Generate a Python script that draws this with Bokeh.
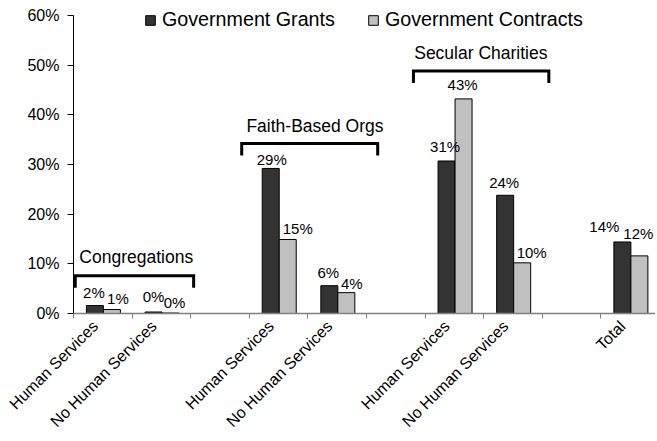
from bokeh.plotting import figure
from bokeh.models import (ColumnDataSource, Range1d, FixedTicker, PrintfTickFormatter,
                          Legend, LegendItem)
from bokeh.core.properties import value
from bokeh.embed import file_html
from bokeh.resources import INLINE

# ---- data ----
slot_labels = ["Human Services", "No Human Services", "",
               "Human Services", "No Human Services", "",
               "Human Services", "No Human Services", "",
               "Total"]
bar_slots = [0, 1, 3, 4, 6, 7, 9]
grants = [1.6, 0.3, 29.2, 5.6, 30.7, 23.8, 14.4]
contracts = [0.8, 0.1, 14.9, 4.2, 43.2, 10.2, 11.6]
y_ticks = [0, 10, 20, 30, 40, 50, 60]

group_names = ["Congregations", "Faith-Based Orgs", "Secular Charities"]
group_start = [0.03, 2.87, 5.80]
group_end = [2.05, 5.19, 8.11]
group_bracket_y = [7.6, 34.2, 48.8]
group_text_x = [1.07, 4.12, 6.95]
group_text_y = [11.3, 37.8, 52.4]

# label pixel nudges (as placed in the original)
g_dx = [-1, 0, 1, -1, -1.5, -1, -18]
g_dy = [13.5, 15.5, 9, 13, 14, 13, 15.7]
c_dx = [6, 4, 10, 5.5, -1, 9.5, -1]
c_dy = [11, 11, 11, 9, 14, 10.6, 22.7]

FONT = "Liberation Sans"
DARK = "#333333"
LIGHT = "#c0c0c0"
BW = 0.29
G_OFF = 0.365
C_OFF = 0.655
LAB_OFF = 0.37

p = figure(width=655, height=440, output_backend="svg", toolbar_location=None,
           x_range=Range1d(0, 9.93), y_range=Range1d(0, 61.8),
           min_border_left=73, min_border_top=6, min_border_right=0,
           min_border_bottom=127)
p.outline_line_color = None
p.xgrid.visible = False
p.ygrid.visible = False
p.background_fill_color = "white"
p.border_fill_color = "white"

gx = [s + G_OFF for s in bar_slots]
cx = [s + C_OFF for s in bar_slots]
src_g = ColumnDataSource(dict(x=gx, top=grants,
                              lab=[f"{v:.0f}%" for v in grants],
                              dx=g_dx, dy=[-d for d in g_dy]))
src_c = ColumnDataSource(dict(x=cx, top=contracts,
                              lab=[f"{v:.0f}%" for v in contracts],
                              dx=c_dx, dy=[-d for d in c_dy]))

rg = p.vbar(x="x", top="top", width=BW, bottom=0, source=src_g,
            fill_color=DARK, line_color="black", line_width=1)
rc = p.vbar(x="x", top="top", width=BW, bottom=0, source=src_c,
            fill_color=LIGHT, line_color="black", line_width=1)

for src in (src_g, src_c):
    p.text(x="x", y="top", text="lab", source=src, x_offset="dx", y_offset="dy",
           text_align="center", text_baseline="middle",
           text_font=value(FONT), text_font_size="15px", text_color="black")

# brackets
xs, ys = [], []
for a, b, y in zip(group_start, group_end, group_bracket_y):
    xs.append([a, a, b, b])
    ys.append([y - 2.4, y, y, y - 2.4])
p.multi_line(xs=xs, ys=ys, line_color="black", line_width=3, line_join="miter")
p.text(x=group_text_x, y=group_text_y, text=group_names,
       text_align="center", text_baseline="middle",
       text_font=value(FONT), text_font_size="17.5px", text_color="black")

# x axis
label_pos = [i + LAB_OFF for i, l in enumerate(slot_labels) if l]
xa = p.xaxis[0]
xa.ticker = FixedTicker(ticks=label_pos, minor_ticks=list(range(0, 10)))
xa.major_label_overrides = {i + LAB_OFF: l for i, l in enumerate(slot_labels) if l}
xa.major_label_orientation = 0.785398
xa.major_tick_in = 0
xa.major_tick_out = 0
xa.minor_tick_in = 0
xa.minor_tick_out = 5
xa.minor_tick_line_color = "#808080"
xa.axis_line_color = "#808080"
xa.axis_line_width = 1.5
xa.major_label_text_font = FONT
xa.major_label_text_font_size = "16px"
xa.major_label_text_color = "black"
xa.major_label_standoff = 5

# y axis
ya = p.yaxis[0]
ya.ticker = FixedTicker(ticks=y_ticks, minor_ticks=[])
ya.bounds = (0, 60)
ya.formatter = PrintfTickFormatter(format="%d%%")
ya.major_tick_in = 0
ya.major_tick_out = 6
ya.minor_tick_line_color = None
ya.axis_line_color = "black"
ya.major_tick_line_color = "black"
ya.major_label_text_font = FONT
ya.major_label_text_font_size = "16px"
ya.major_label_text_color = "black"
ya.major_label_standoff = 8

legend = Legend(items=[LegendItem(label="Government Grants", renderers=[rg]),
                       LegendItem(label="Government Contracts", renderers=[rc])],
                orientation="horizontal", location=(71, 282),
                glyph_width=12, glyph_height=12, label_standoff=6, spacing=32,
                padding=0, margin=0, label_height=20,
                label_text_font=FONT, label_text_font_size="19.7px",
                label_text_color="black", border_line_color=None,
                background_fill_alpha=0)
p.add_layout(legend, "center")

open("out.html", "w").write(file_html(p, INLINE))
